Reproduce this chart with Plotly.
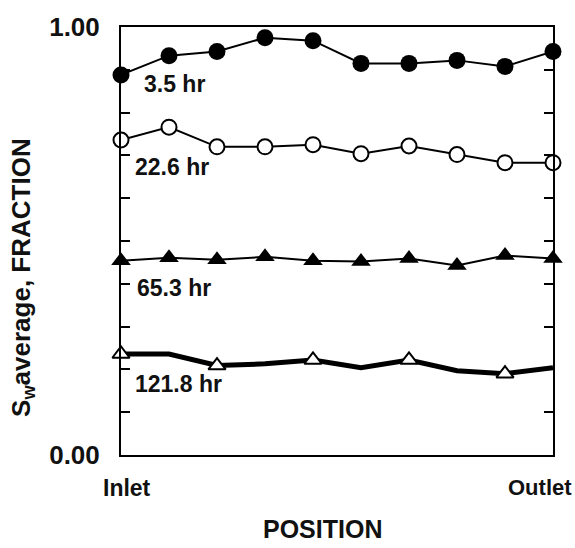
import plotly.graph_objects as go

positions = [1, 2, 3, 4, 5, 6, 7, 8, 9, 10]
sw_3_5 = [0.888, 0.933, 0.943, 0.975, 0.968, 0.915, 0.915, 0.922, 0.908, 0.943]
sw_22_6 = [0.736, 0.766, 0.720, 0.720, 0.725, 0.704, 0.722, 0.702, 0.683, 0.683]
sw_65_3 = [0.454, 0.461, 0.456, 0.463, 0.454, 0.452, 0.459, 0.443, 0.466, 0.459]
sw_121_8 = [0.236, 0.236, 0.209, 0.213, 0.222, 0.204, 0.222, 0.197, 0.190, 0.204]
marked_121_8 = [0, 2, 4, 6, 8]
series_labels = ["3.5 hr", "22.6 hr", "65.3 hr", "121.8 hr"]
label_x = [1.44, 1.25, 1.29, 1.25]
label_y = [0.868, 0.672, 0.390, 0.167]
y_ticks = [0.0, 1.0]
y_ticktext = ["0.00", "1.00"]
y_minor_step = 0.1
x_labels = ["Inlet", "Outlet"]

FONT = "Liberation Sans"


def txt(size):
    return dict(family=FONT, size=size, color="#111111", weight="bold")


fig = go.Figure()

fig.add_trace(go.Scatter(
    x=positions, y=sw_3_5, mode="lines+markers", cliponaxis=False,
    line=dict(color="black", width=2),
    marker=dict(symbol="circle", size=17, color="black"),
))
fig.add_trace(go.Scatter(
    x=positions, y=sw_22_6, mode="lines+markers", cliponaxis=False,
    line=dict(color="black", width=2),
    marker=dict(symbol="circle", size=15, color="white", line=dict(color="black", width=2)),
))
fig.add_trace(go.Scatter(
    x=positions, y=sw_65_3, mode="lines+markers", cliponaxis=False,
    line=dict(color="black", width=2),
    marker=dict(symbol="triangle-up", size=17, color="black"),
))
fig.add_trace(go.Scatter(
    x=positions, y=sw_121_8, mode="lines", cliponaxis=False,
    line=dict(color="black", width=5),
))
fig.add_trace(go.Scatter(
    x=[positions[i] for i in marked_121_8], y=[sw_121_8[i] for i in marked_121_8],
    mode="markers", cliponaxis=False,
    marker=dict(symbol="triangle-up", size=15, color="white", line=dict(color="black", width=2)),
))

for t, xv, yv in zip(series_labels, label_x, label_y):
    fig.add_annotation(x=xv, y=yv, xref="x", yref="y", text=t, showarrow=False,
                       xanchor="left", yanchor="middle", font=txt(23))

fig.add_annotation(x=-0.046, y=-0.076, xref="paper", yref="paper", text=x_labels[0],
                   showarrow=False, xanchor="left", yanchor="middle", font=txt(23))
fig.add_annotation(x=1.049, y=-0.076, xref="paper", yref="paper", text=x_labels[1],
                   showarrow=False, xanchor="right", yanchor="middle", font=txt(22))
fig.add_annotation(x=0.467, y=-0.172, xref="paper", yref="paper", text="POSITION",
                   showarrow=False, xanchor="center", yanchor="middle", font=txt(25))
fig.add_annotation(x=-0.227, y=0.416, xref="paper", yref="paper",
                   text="S<sub>w</sub>average, FRACTION", textangle=-90,
                   showarrow=False, xanchor="center", yanchor="middle", font=txt(26))

fig.update_layout(
    width=575, height=548,
    margin=dict(l=121, r=22, t=19, b=93),
    paper_bgcolor="white", plot_bgcolor="white",
    showlegend=False,
    font=dict(family=FONT, size=24, color="black"),
)
fig.update_xaxes(range=[1, 10], showgrid=False, zeroline=False, showticklabels=False,
                 ticks="", showline=True, linecolor="black", linewidth=2, mirror=True)
fig.update_yaxes(range=[0, 1], showgrid=False, zeroline=False,
                 tickvals=y_ticks, ticktext=y_ticktext, ticks="inside", ticklen=9,
                 tickwidth=2, tickcolor="black", ticklabelstandoff=14,
                 minor=dict(dtick=y_minor_step, tick0=0, ticks="inside", ticklen=9,
                            tickwidth=2, tickcolor="black", showgrid=False),
                 showline=True, linecolor="black", linewidth=2, mirror="ticks",
                 tickfont=txt(26))

fig.write_html("out.html")
